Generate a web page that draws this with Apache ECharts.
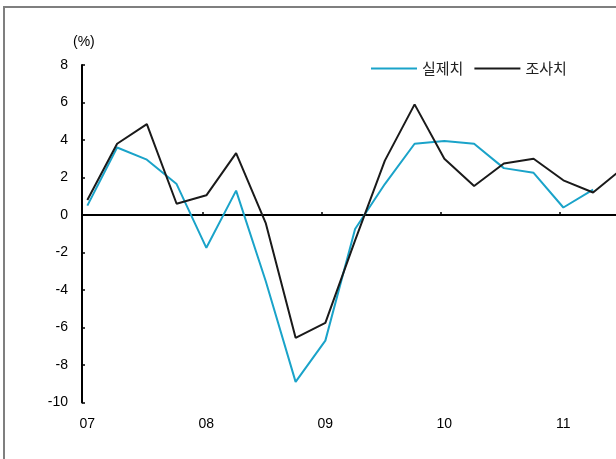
<!DOCTYPE html>
<html>
<head>
<meta charset="utf-8">
<script src="https://cdn.jsdelivr.net/npm/echarts@6/dist/echarts.min.js"></script>
<style>
  html, body { margin: 0; padding: 0; background: #fff; }
  #chart { width: 616px; height: 459px; }
</style>
</head>
<body>
<div id="chart"></div>
<script>
// Quarterly periods, 2007 Q1 onward
const quarters = [
  '07.1Q', '07.2Q', '07.3Q', '07.4Q',
  '08.1Q', '08.2Q', '08.3Q', '08.4Q',
  '09.1Q', '09.2Q', '09.3Q', '09.4Q',
  '10.1Q', '10.2Q', '10.3Q', '10.4Q',
  '11.1Q', '11.2Q', '11.3Q'
];
const yearLabels = ['07', '08', '09', '10', '11'];

// 실제치 (actual), %
const actualValues = [
  0.5, 3.6, 2.95, 1.65,
  -1.75, 1.3, -3.55, -8.9,
  -6.7, -0.75, 1.65, 3.8,
  3.95, 3.8, 2.5, 2.25,
  0.4, 1.35
];
// 조사치 (survey), %
const surveyValues = [
  0.8, 3.8, 4.85, 0.6,
  1.05, 3.3, -0.45, -6.55,
  -5.75, -1.35, 2.9, 5.9,
  3.0, 1.55, 2.75, 3.0,
  1.85, 1.2, 2.5
];

const seriesNames = ['실제치', '조사치'];
const yTicks = { min: -10, max: 8, step: 2 };

const toPoints = vals => vals.map((v, i) => [i, v]);
const yearIndex = yearLabels.map((_, k) => k * 4);
const yearTickPos = [3.88, 7.88, 11.88, 15.88];

// the last quarter lies past the right edge and its segment is clipped there
const X_MIN = -0.18, X_MAX = 17.77;
const FONT = '"Liberation Sans", Arial, sans-serif';

const chart = echarts.init(document.getElementById('chart'), null, { renderer: 'canvas' });

chart.setOption({
  backgroundColor: '#ffffff',
  animation: false,
  graphic: [
    {
      type: 'rect',
      shape: { x: 4, y: 7, width: 700, height: 520 },
      style: { fill: 'none', stroke: '#7f7f7f', lineWidth: 2 },
      silent: true
    },
    {
      type: 'text',
      left: 73,
      top: 35,
      style: { text: '(%)', font: '14px ' + FONT, fill: '#000' }
    }
  ],
  legend: {
    left: 366,
    top: 56,
    itemWidth: 46,
    itemHeight: 2,
    itemGap: 11,
    icon: 'rect',
    textStyle: { fontSize: 15, color: '#222', fontFamily: '"Noto Sans CJK KR", sans-serif' },
    data: seriesNames
  },
  grid: { left: 82, right: 0, top: 65, bottom: 56.5, containLabel: false },
  xAxis: [
    {
      type: 'value',
      min: X_MIN,
      max: X_MAX,
      axisLine: { onZero: true, lineStyle: { color: '#000', width: 2 } },
      axisTick: { show: true, inside: true, length: 3, customValues: yearTickPos, lineStyle: { color: '#000', width: 1.5 } },
      axisLabel: { show: false },
      splitLine: { show: false }
    },
    {
      type: 'value',
      min: X_MIN,
      max: X_MAX,
      position: 'bottom',
      axisLine: { show: false, onZero: false },
      axisTick: { show: false },
      axisLabel: {
        show: true,
        margin: 15,
        customValues: yearIndex,
        formatter: v => yearLabels[Math.round(v / 4)] || '',
        fontSize: 14,
        color: '#000',
        fontFamily: FONT
      },
      splitLine: { show: false }
    }
  ],
  yAxis: {
    type: 'value',
    min: yTicks.min,
    max: yTicks.max,
    interval: yTicks.step,
    axisLine: { show: true, onZero: false, lineStyle: { color: '#000', width: 2 } },
    axisTick: { show: true, inside: true, length: 3, lineStyle: { color: '#000', width: 1.5 } },
    axisLabel: { margin: 14, fontSize: 14, color: '#000', fontFamily: FONT },
    splitLine: { show: false }
  },
  series: [
    {
      name: seriesNames[0],
      type: 'line',
      xAxisIndex: 0,
      data: toPoints(actualValues),
      symbol: 'none',
      clip: true,
      lineStyle: { color: '#1aa3c9', width: 2 },
      itemStyle: { color: '#1aa3c9' }
    },
    {
      name: seriesNames[1],
      type: 'line',
      xAxisIndex: 0,
      data: toPoints(surveyValues),
      symbol: 'none',
      clip: true,
      lineStyle: { color: '#1a1a1a', width: 2 },
      itemStyle: { color: '#1a1a1a' }
    }
  ]
});
</script>
</body>
</html>
